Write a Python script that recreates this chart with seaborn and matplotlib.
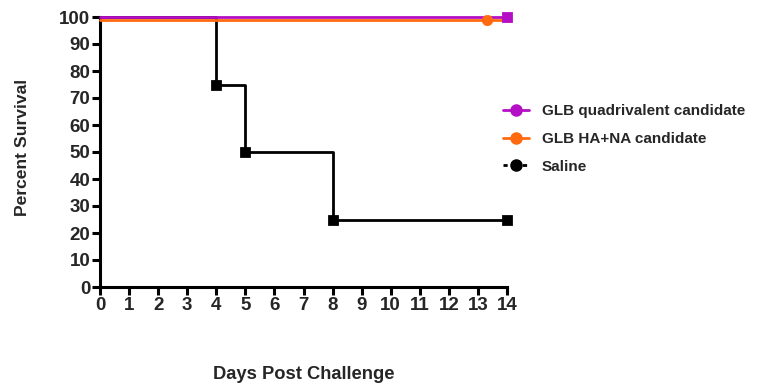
import matplotlib
matplotlib.use("Agg")
import matplotlib.pyplot as plt
import seaborn as sns
import pandas as pd
from matplotlib.lines import Line2D

# Data
quad_days = [0, 14]
quad_surv = [100, 100]
quad_mark_days = [14]
quad_mark_surv = [100]

hana_days = [0, 14]
hana_surv = [99, 99]
hana_mark_days = [13.3]
hana_mark_surv = [99]

saline_days = [0, 4, 5, 8, 14]
saline_surv = [100, 75, 50, 25, 25]
saline_mark_days = [4, 5, 8, 14]
saline_mark_surv = [75, 50, 25, 25]

labels = ["GLB quadrivalent candidate", "GLB HA+NA candidate", "Saline"]
x_ticks = list(range(0, 15))
y_ticks = list(range(0, 101, 10))

PURPLE = "#B40FC4"
ORANGE = "#FF6A10"
BLACK = "#000000"

sns.set_style("white")
plt.rcParams['font.family'] = ['Liberation Sans', 'DejaVu Sans']
plt.rcParams['font.weight'] = 'bold'

fig = plt.figure(figsize=(7.57, 3.83), dpi=100)
ax = fig.add_axes([100/757, 1-287/383, 407/757, 270/383])

sal = pd.DataFrame({"day": saline_days, "surv": saline_surv})
sal_m = pd.DataFrame({"day": saline_mark_days, "surv": saline_mark_surv})
quad = pd.DataFrame({"day": quad_days, "surv": quad_surv})
quad_m = pd.DataFrame({"day": quad_mark_days, "surv": quad_mark_surv})
hana = pd.DataFrame({"day": hana_days, "surv": hana_surv})
hana_m = pd.DataFrame({"day": hana_mark_days, "surv": hana_mark_surv})

sns.lineplot(data=sal, x="day", y="surv", ax=ax, color=BLACK, lw=2,
             drawstyle="steps-post", estimator=None, clip_on=False, zorder=3)
sns.scatterplot(data=sal_m, x="day", y="surv", ax=ax, color=BLACK, marker="s",
                s=50, edgecolor=BLACK, clip_on=False, zorder=4)
sns.lineplot(data=hana, x="day", y="surv", ax=ax, color=ORANGE, lw=2,
             estimator=None, clip_on=False, zorder=5)
sns.scatterplot(data=hana_m, x="day", y="surv", ax=ax, color=ORANGE, marker="o",
                s=55, edgecolor=ORANGE, clip_on=False, zorder=6)
sns.lineplot(data=quad, x="day", y="surv", ax=ax, color=PURPLE, lw=2,
             estimator=None, clip_on=False, zorder=5)
sns.scatterplot(data=quad_m, x="day", y="surv", ax=ax, color=PURPLE, marker="s",
                s=55, edgecolor=PURPLE, clip_on=False, zorder=6)

ax.set_xlim(0, 14)
ax.set_ylim(0, 100)
ax.set_xticks(x_ticks)
ax.set_yticks(y_ticks)
ax.set_xticklabels([str(t) for t in x_ticks], fontsize=13.5, fontweight='bold')
ax.set_yticklabels([str(t) for t in y_ticks], fontsize=13.5, fontweight='bold')
for s in ["top", "right"]:
    ax.spines[s].set_visible(False)
for s in ["left", "bottom"]:
    ax.spines[s].set_linewidth(2.2)
    ax.spines[s].set_color(BLACK)
ax.tick_params(axis='both', which='major', length=6, width=2.2, direction='out',
               color=BLACK, pad=1, left=True, bottom=True)

ax.set_xlabel("Days Post Challenge", fontsize=13.2, fontweight='bold')
ax.set_ylabel("Percent Survival", fontsize=12.6, fontweight='bold')
ax.xaxis.set_label_coords(0.5, (287-366)/270)
ax.yaxis.set_label_coords((30-100)/407, (287-147)/270)

handles = [
    Line2D([], [], color=PURPLE, lw=2, marker='o', markersize=8),
    Line2D([], [], color=ORANGE, lw=2, marker='o', markersize=8),
    Line2D([], [], color=BLACK, lw=2, marker='o', markersize=8,
           linestyle=(0, (1.5, 5.5))),
]
ax.legend(handles, labels, loc="upper left", bbox_to_anchor=(497/757, 1-98/383),
          bbox_transform=fig.transFigure, frameon=False,
          prop={'size': 11, 'weight': 'bold'}, handlelength=1.7,
          handletextpad=0.85, labelspacing=0.9, borderaxespad=0)

fig.savefig("out.png", dpi=100)
